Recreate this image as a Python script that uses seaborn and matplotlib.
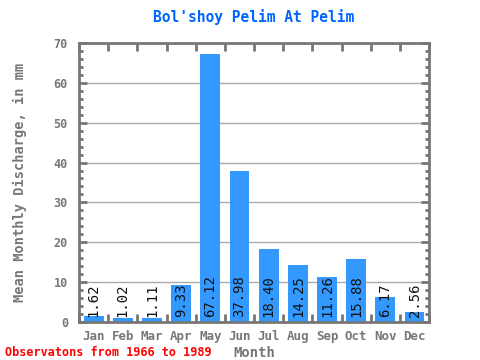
import matplotlib
matplotlib.use("Agg")
import matplotlib.pyplot as plt
import numpy as np
import pandas as pd
import seaborn as sns
from matplotlib.ticker import MultipleLocator, FixedLocator

months = ["Jan", "Feb", "Mar", "Apr", "May", "Jun",
          "Jul", "Aug", "Sep", "Oct", "Nov", "Dec"]
discharge = [1.62, 1.02, 1.11, 9.33, 67.12, 37.98,
             18.40, 14.25, 11.26, 15.88, 6.17, 2.56]
value_labels = ["1.62", "1.02", "1.11", "9.33", "67.12", "37.98",
                "18.40", "14.25", "11.26", "15.88", "6.17", "2.56"]

GRAY = "#777777"
df = pd.DataFrame({"month": months, "value": discharge})

sns.set_style("white")
plt.rcParams["font.family"] = ["DejaVu Sans Mono", "DejaVu Sans"]

fig = plt.figure(figsize=(4.8, 3.6), dpi=100)
ax = fig.add_axes([0.1646, 0.1056, 0.7295, 0.775])

sns.barplot(data=df, x="month", y="value", color="#3399ff", saturation=1,
            width=0.68, linewidth=0, ax=ax, zorder=2)

ax.set_ylim(0, 70)
ax.set_xlim(-0.5, 11.5)
ax.yaxis.set_major_locator(MultipleLocator(10))
ax.yaxis.set_minor_locator(MultipleLocator(2))
ax.grid(axis="y", which="major", color="#aaaaaa", linewidth=1, zorder=1)
ax.set_axisbelow(True)

for i, lab in enumerate(value_labels):
    ax.text(i, 1.3, lab, rotation=90, ha="center", va="bottom",
            fontsize=10, color="#111111", zorder=3)

for s in ax.spines.values():
    s.set_color(GRAY)
    s.set_linewidth(2)

ax.tick_params(axis="y", which="major", direction="in", length=6, width=2,
               color=GRAY, left=True, right=True, labelsize=8.5,
               labelcolor=GRAY, pad=8)
ax.tick_params(axis="y", which="minor", direction="in", length=3, width=2,
               color=GRAY, left=True, right=True)
for t in ax.get_yticklabels():
    t.set_fontweight("bold")

ax.xaxis.set_minor_locator(FixedLocator(np.arange(-0.5, 12, 1)))
ax.tick_params(axis="x", which="major", length=0, labelsize=9,
               labelcolor=GRAY, pad=6)
ax.tick_params(axis="x", which="minor", direction="in", length=6, width=2,
               color=GRAY, top=True, bottom=True)
for t in ax.get_xticklabels():
    t.set_fontweight("bold")

ax.set_xlabel("Month", fontsize=10, color=GRAY, fontweight="bold", labelpad=2)
ax.set_ylabel("Mean Monthly Discharge, in mm", fontsize=9.8, color=GRAY,
              fontweight="bold", labelpad=19)

fig.text(0.529, 0.952, "Bol'shoy Pelim At Pelim", ha="center", va="center",
         color="#0066ff", fontsize=10.5, fontweight="bold")
fig.text(0.01, 0.022, "Observatons from 1966 to 1989", ha="left",
         va="center", color="red", fontsize=8.5, fontweight="bold")

fig.savefig("out.png", dpi=100)
